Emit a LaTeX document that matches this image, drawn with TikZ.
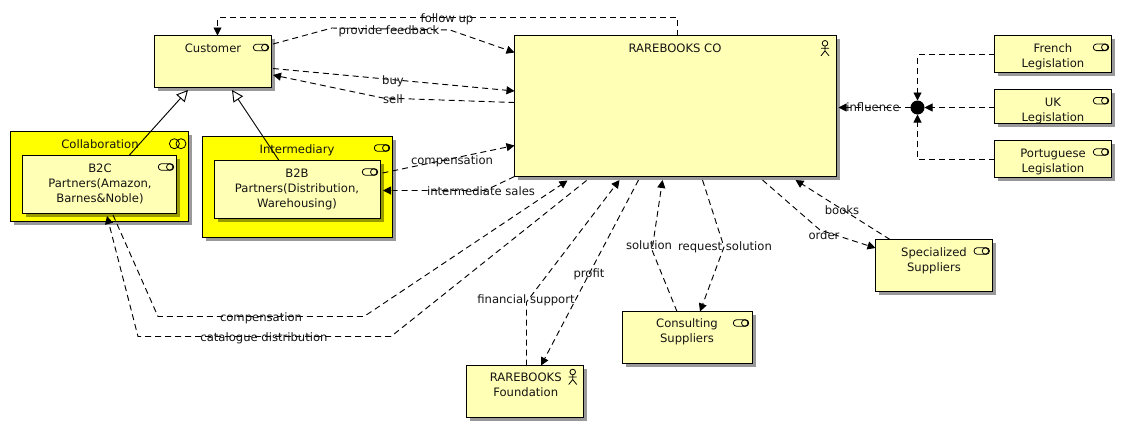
\documentclass[tikz,border=0pt]{standalone}
\usepackage{fontspec}
\setmainfont{DejaVu Sans}
\usetikzlibrary{arrows.meta,shadows}
\definecolor{paleyellow}{HTML}{FFFFB5}
\definecolor{fullyellow}{HTML}{FFFF00}
\definecolor{inktext}{HTML}{141414}
\tikzset{
  x=0.75pt,y=-0.75pt,
  boxbase/.style={draw=black,line width=0.75pt,outer sep=0pt,inner sep=0pt,
    drop shadow={shadow xshift=2.4pt,shadow yshift=-2.4pt,fill=black,opacity=0.4}},
  palebox/.style={boxbase,fill=paleyellow},
  groupbox/.style={boxbase,fill=fullyellow},
  txt/.style={font=\fontsize{8.7}{11.25}\selectfont,text=inktext,inner sep=0pt,outer sep=0pt,anchor=north,align=center},
  flow/.style={draw=black,line width=0.7pt,dash pattern=on 4.5pt off 3pt},
  flowtip/.style={flow,-{Triangle[length=6pt,width=6pt]}},
  inherit/.style={draw=black,line width=0.7pt,-{Triangle[open,fill=white,length=8.5pt,width=8.5pt]}},
  icon/.style={draw=black,line width=0.6pt},
}
% name, style, x1, y1, x2, y2
\newcommand{\abox}[6]{\node[#2,minimum width={(#5-#3)*0.75pt},minimum height={(#6-#4)*0.75pt}] (#1) at ({(#3+#5)/2},{(#4+#6)/2}) {};}
% name, x, y of first line centre, text
\newcommand{\atxt}[4]{\node[txt] (#1) at (#2,{#3-6}) {\strut #4};}
\newcommand{\svcicon}[2]{\draw[icon,rounded corners=2.4pt] (#1-7.7,#2-3.3) rectangle (#1+7.7,#2+3.3); \draw[icon] (#1+3.7,#2) circle[radius=3.2];}
\newcommand{\actoricon}[2]{\draw[icon] (#1,#2) circle[radius=2.8];
  \draw[icon] (#1,#2+2.8) -- (#1,#2+7.5) (#1-4,#2+5) -- (#1+4,#2+5) (#1-4,#2+12.5) -- (#1,#2+7.5) -- (#1+4,#2+12.5);}
\begin{document}
\begin{tikzpicture}
\useasboundingbox (0,0) rectangle (1124,430);
\fill[white] (0,0) rectangle (1124,430);
% boxes
\abox{customer}{palebox}{154.5}{35.5}{271.5}{87.5}
\abox{main}{palebox}{514.5}{35.5}{836.5}{176.5}
\abox{collab}{groupbox}{10.5}{131.5}{188.5}{221.5}
\abox{btoc}{palebox}{22.5}{155.5}{176.5}{213.5}
\abox{interm}{groupbox}{202.5}{136.5}{392.5}{237.5}
\abox{btob}{palebox}{214.5}{160.5}{380.5}{218.5}
\abox{french}{palebox}{994.5}{35.5}{1111.5}{72.5}
\abox{uk}{palebox}{994.5}{89.5}{1111.5}{123.5}
\abox{port}{palebox}{994.5}{140.5}{1111.5}{177.5}
\abox{special}{palebox}{875.5}{239.5}{992.5}{291.5}
\abox{consult}{palebox}{622.5}{311.5}{752.5}{363.5}
\abox{found}{palebox}{466.5}{365.5}{583.5}{417.5}
\node[circle,fill=black,inner sep=0pt,outer sep=0pt,minimum size=10.5pt] (junction) at (917.5,107.5) {};
% box texts
\atxt{customert}{213}{47.5}{Customer}
\atxt{maint}{675}{47.5}{RAREBOOKS CO}
\atxt{collabt}{100}{143.5}{Collaboration}
\atxt{btoct}{100}{167.5}{B2C\\Partners(Amazon,\\Barnes\&Noble)}
\atxt{intermt}{297}{148.5}{Intermediary}
\atxt{btobt}{297}{172.5}{B2B\\Partners(Distribution,\\Warehousing)}
\atxt{frencht}{1053}{47.5}{French\\Legislation}
\begin{scope}
\clip (uk.north west) rectangle (uk.south east);
\atxt{ukt}{1053}{101.7}{UK\\Legislation}
\end{scope}
\atxt{portt}{1053}{152.7}{Portuguese\\Legislation}
\atxt{specialt}{934}{251.7}{Specialized\\Suppliers}
\atxt{consultt}{687}{323.3}{Consulting\\Suppliers}
\atxt{foundt}{525.7}{377.3}{RAREBOOKS\\Foundation}
% icons
\svcicon{261}{47.5}
\svcicon{166}{167}
\svcicon{382}{148}
\svcicon{370}{172}
\svcicon{1101}{47.3}
\svcicon{1101}{100.7}
\svcicon{1101}{152}
\svcicon{981.7}{251}
\svcicon{741}{323}
\actoricon{825}{43.3}
\actoricon{572.7}{372}
\draw[icon] (174.4,143.7) circle[radius=5] (181,143.7) circle[radius=5];
% connectors
\coordinate (fu1) at (677.5,17.5);
\coordinate (fu2) at (217.5,17.5);
\draw[flowtip] ([shift={(163,0)}]main.north west) -- (fu1) -- (fu2) -- ([shift={(63,0)}]customer.north west);
\coordinate (pf1) at (332,28);
\coordinate (pf2) at (450,30);
\draw[flowtip] ([shift={(1.5,8.5)}]customer.north east) -- (pf1) -- (pf2) -- ([shift={(0,17)}]main.north west);
\draw[flowtip] ([shift={(1.5,33)}]customer.north east) -- ([shift={(0,55.5)}]main.north west);
\coordinate (se1) at (383,98);
\draw[flowtip] ([shift={(0,67)}]main.north west) -- (se1) -- ([shift={(1.5,39.5)}]customer.north east);
\draw[inherit] ([shift={(106.5,0)}]btoc.north west) -- ([shift={(33.5,2.5)}]customer.south west);
\draw[inherit] ([shift={(64.5,0)}]btob.north west) -- ([shift={(77.5,2.5)}]customer.south west);
\draw[flowtip] ([shift={(2,12.5)}]btob.north east) -- ([shift={(0,110)}]main.north west);
\coordinate (is1) at (485,190.5);
\draw[flowtip] (main.south west) -- (is1) -- ([shift={(2.5,30)}]btob.north east);
\coordinate (cp1) at (158,316.5);
\coordinate (cp2) at (364,316.5);
\draw[flowtip] ([shift={(90.5,1.5)}]btoc.south west) -- (cp1) -- (cp2) -- ([shift={(53,4)}]main.south west);
\coordinate (cd1) at (391,336.5);
\coordinate (cd2) at (138,336.5);
\draw[flowtip] ([shift={(72,4)}]main.south west) -- (cd1) -- (cd2) -- ([shift={(84.5,2.5)}]btoc.south west);
\coordinate (fs1) at (526.5,302);
\draw[flowtip] ([shift={(60,0)}]found.north west) -- (fs1) -- ([shift={(105,3.5)}]main.south west);
\draw[flowtip] ([shift={(124,3.5)}]main.south west) -- ([shift={(74.5,0)}]found.north west);
\coordinate (so1) at (652,250);
\draw[flowtip] ([shift={(54.5,0)}]consult.north west) -- (so1) -- ([shift={(148,3.5)}]main.south west);
\coordinate (rs1) at (724,247);
\draw[flowtip] ([shift={(188,3.5)}]main.south west) -- (rs1) -- ([shift={(77.5,0)}]consult.north west);
\coordinate (or1) at (820,230);
\draw[flowtip] ([shift={(248,3.5)}]main.south west) -- (or1) -- ([shift={(0,8.5)}]special.north west);
\draw[flowtip] ([shift={(14.5,0)}]special.north west) -- ([shift={(281,3.5)}]main.south west);
\draw[flowtip] (junction.west) -- ([shift={(2,-69)}]main.south east);
\draw[flowtip] (uk.west |- junction) -- (junction.east);
\draw[flowtip] ([shift={(0,0.5)}]french.west) -| (junction.north);
\draw[flowtip] ([shift={(0,0.5)}]port.west) -| (junction.south);
% connector labels
\atxt{lfollow}{447}{18}{follow up}
\atxt{lfeed}{389}{30}{provide feedback}
\atxt{lbuy}{393}{80}{buy}
\atxt{lsell}{393}{99}{sell}
\atxt{lcomp}{452}{160}{compensation}
\atxt{lsales}{481}{190.5}{intermediate sales}
\atxt{lcompb}{261}{317}{compensation}
\atxt{lcat}{264}{337}{catalogue distribution}
\atxt{lfin}{526}{299}{financial support}
\atxt{lprofit}{589}{273}{profit}
\atxt{lsol}{649}{245}{solution}
\atxt{lreq}{725}{245.5}{request solution}
\atxt{lorder}{824}{235}{order}
\atxt{lbooks}{842}{210}{books}
\atxt{linf}{873}{107}{influence}
\end{tikzpicture}
\end{document}
